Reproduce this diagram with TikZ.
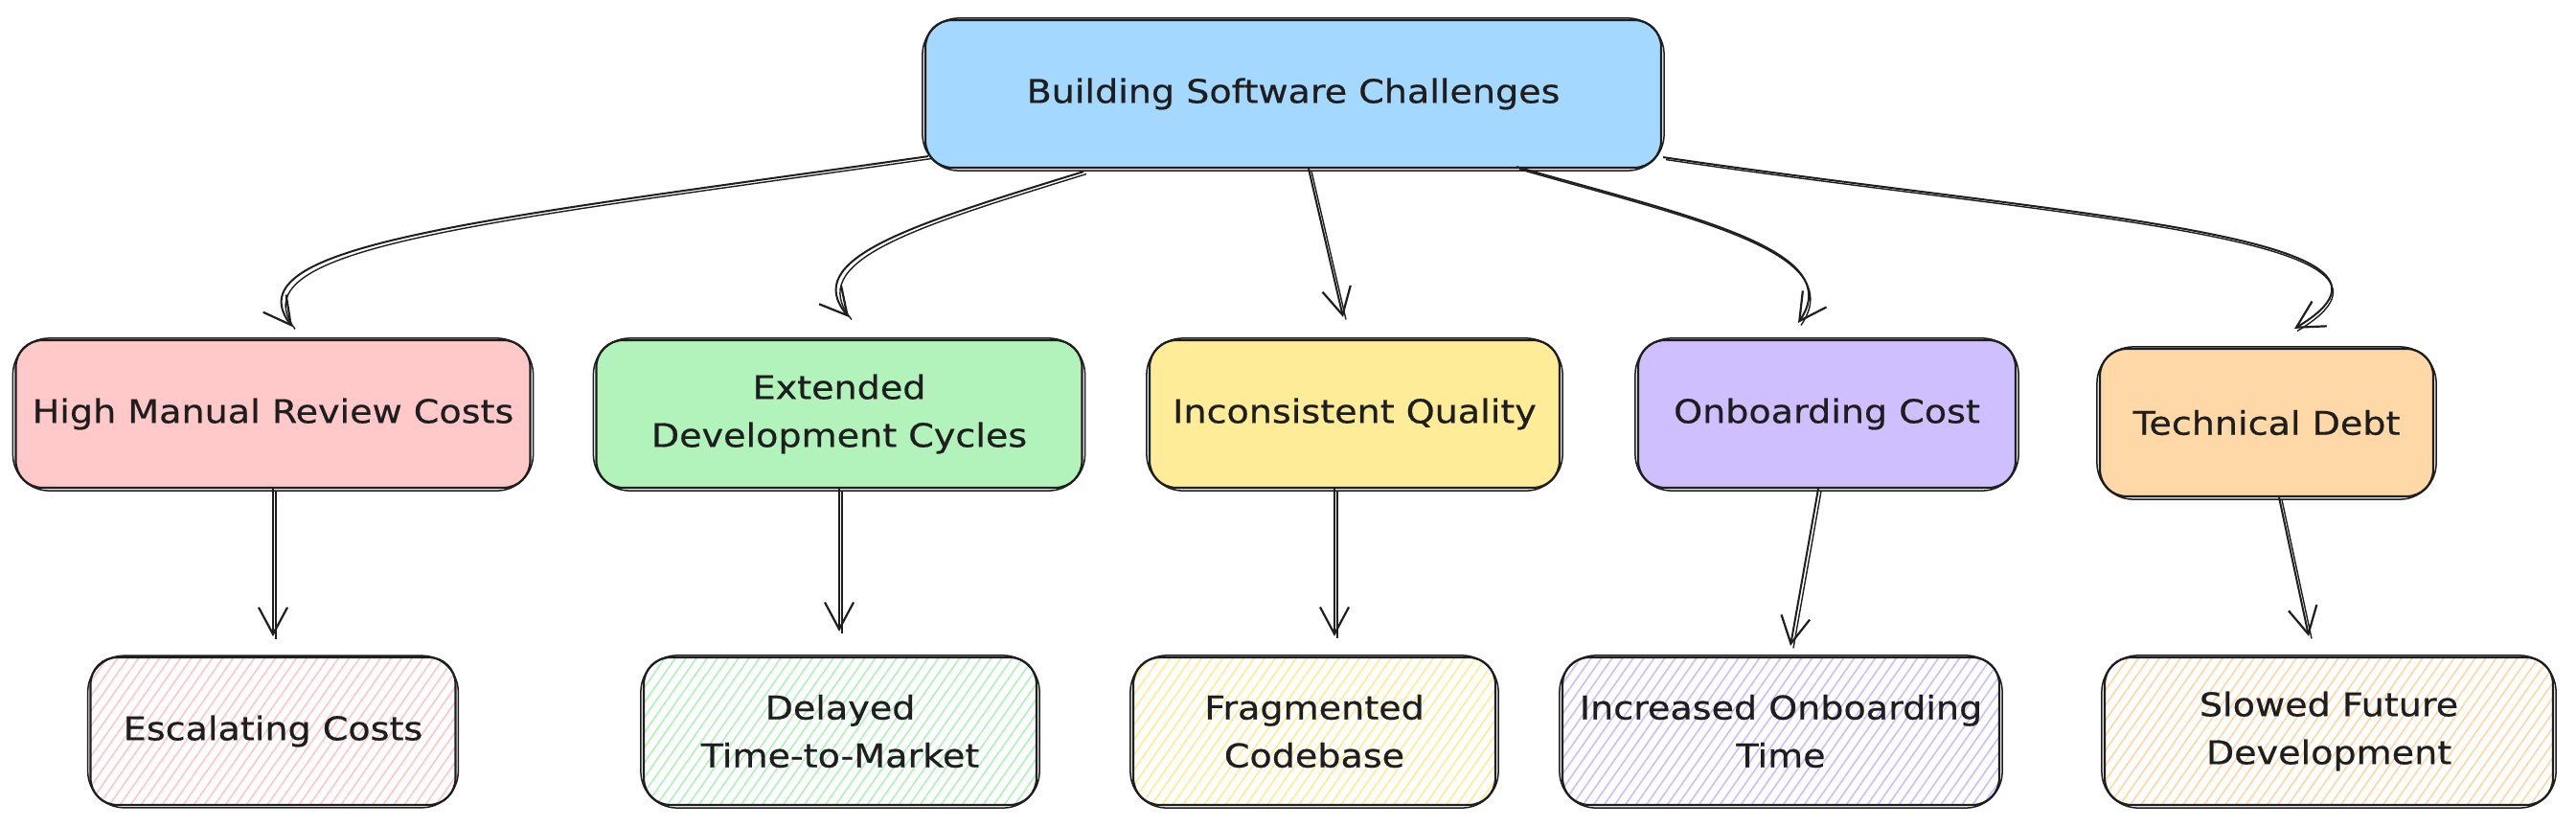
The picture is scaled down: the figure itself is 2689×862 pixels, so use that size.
\documentclass[tikz,border=0pt]{standalone}
\usepackage{fontspec}
\setmainfont{DejaVu Sans}[FakeStretch=1.12,FakeBold=0.6]
\usetikzlibrary{arrows.meta,patterns.meta}
\definecolor{ink}{HTML}{1E1E1E}
\definecolor{bluec}{HTML}{A5D8FF}
\definecolor{pinkc}{HTML}{FFC9C9}
\definecolor{greenc}{HTML}{B2F2BB}
\definecolor{yellowc}{HTML}{FFEC99}
\definecolor{purplec}{HTML}{D0BFFF}
\definecolor{orangec}{HTML}{FFD8A8}
\begin{document}
\begin{tikzpicture}[x=1pt,y=-1pt,
  box/.style={draw=ink, line width=2.2pt, rounded corners=28pt, align=center,
    font=\fontsize{34}{50}\selectfont, text=ink, inner sep=0pt, minimum height=154pt},
  hatch/.style={preaction={fill=white}, pattern={Lines[angle=55,distance=9pt,line width=1.7pt]}, pattern color=#1},
  outline2/.style={draw=ink, line width=1.5pt, rounded corners=38pt},
  conn/.style={draw=ink, line width=2pt, -{Straight Barb[length=28pt,width=30pt,line width=2.2pt]},
    preaction={draw=ink, line width=1.4pt, arrows=-, transform canvas={shift={(3pt,-2.5pt)}}}}
]
\useasboundingbox (0,0) rectangle (2689,862);
\fill[white] (0,0) rectangle (2689,862);

% top
\node[box, fill=bluec, minimum width=768pt] (top) at (1350,98) {Building Software Challenges};
% middle row
\node[box, fill=pinkc, minimum width=537pt] (m1) at (285,432) {High Manual Review Costs};
\node[box, fill=greenc, minimum width=507pt] (m2) at (876,432) {Extended\\Development Cycles};
\node[box, fill=yellowc, minimum width=428pt] (m3) at (1414,432) {Inconsistent Quality};
\node[box, fill=purplec, minimum width=394pt] (m4) at (1907,432) {Onboarding Cost};
\node[box, fill=orangec, minimum width=348pt] (m5) at (2366,441) {Technical Debt};
% bottom row
\node[box, hatch=pinkc, minimum width=381pt] (b1) at (285,763) {Escalating Costs};
\node[box, hatch=greenc, minimum width=410pt] (b2) at (877,763) {Delayed\\Time-to-Market};
\node[box, hatch=yellowc, minimum width=378pt] (b3) at (1372,763) {Fragmented\\Codebase};
\node[box, hatch=purplec, minimum width=456pt] (b4) at (1859,763) {Increased Onboarding\\Time};
\node[box, hatch=orangec, minimum width=468pt] (b5) at (2431,763) {Slowed Future\\Development};

% sketchy second outlines
\foreach \n in {top,m1,m2,m3,m4,m5,b1,b2,b3,b4,b5}
  \draw[outline2] ([xshift=-2pt,yshift=1pt]\n.north west) rectangle ([xshift=2pt,yshift=-2pt]\n.south east);

% connectors from top
\draw[conn] ([xshift=4pt,yshift=13pt]top.south west) .. controls (500,230) and (240,255) .. ([xshift=20pt,yshift=13pt]m1.north);
\draw[conn] ([xshift=-219pt,yshift=-3pt]top.south) .. controls (950,235) and (835,270) .. ([xshift=10pt,yshift=23pt]m2.north);
\draw[conn] ([xshift=16pt]top.south) -- ([xshift=-12pt,yshift=23pt]m3.north);
\draw[conn] ([xshift=233pt,yshift=2pt]top.south) .. controls (1760,225) and (1930,260) .. ([xshift=-30pt,yshift=17pt]m4.north);
\draw[conn] ([xshift=1pt,yshift=12pt]top.south east) .. controls (2150,225) and (2560,245) .. ([xshift=29pt,yshift=20pt]m5.north);

% connectors down
\draw[conn] (m1.south) -- ([yshift=21pt]b1.north);
\draw[conn] (m2.south) -- ([xshift=-1pt,yshift=26pt]b2.north);
\draw[conn] ([xshift=-21pt]m3.south) -- ([xshift=21pt,yshift=21pt]b3.north);
\draw[conn] ([xshift=-9pt]m4.south) -- ([xshift=10pt,yshift=11pt]b4.north);
\draw[conn] ([xshift=13pt]m5.south) -- ([xshift=-21pt,yshift=21pt]b5.north);
\end{tikzpicture}
\end{document}
